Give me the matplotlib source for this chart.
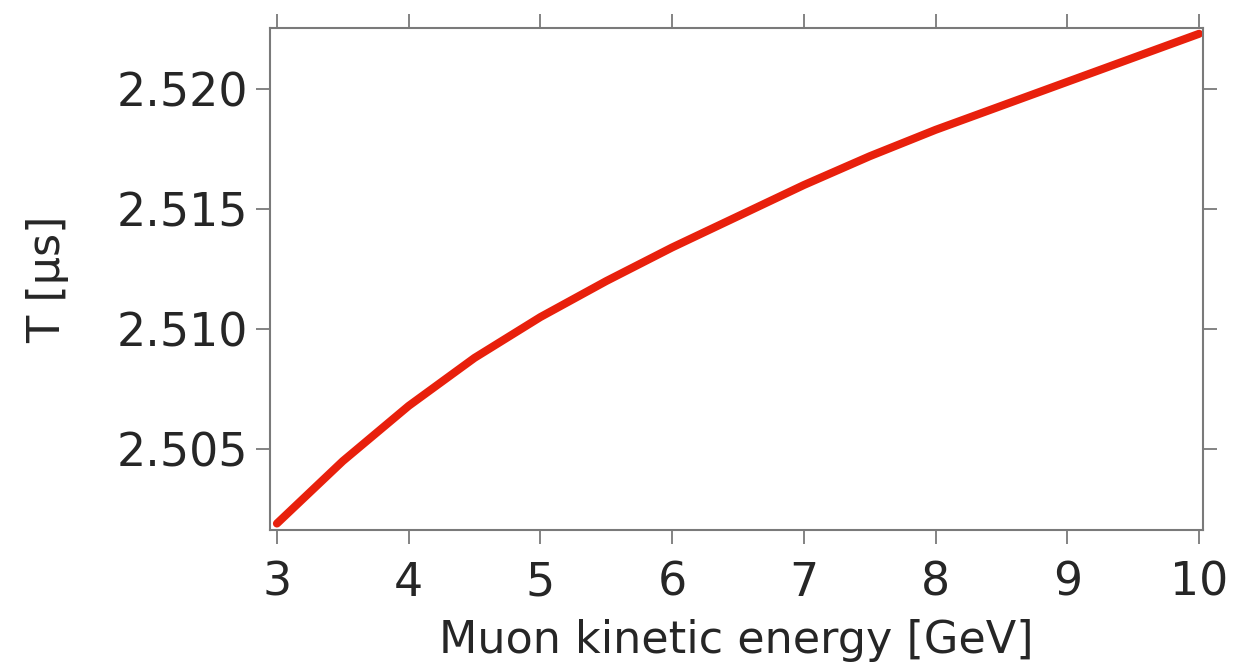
import numpy as np
import matplotlib
matplotlib.use('Agg')
from matplotlib import pyplot as plt

# muon kinetic energy [GeV] and lifetime T [us]
energy = [3.0, 3.5, 4.0, 4.5, 5.0, 5.5, 6.0, 6.5, 7.0, 7.5, 8.0, 8.5, 9.0, 9.5, 10.0]
lifetime = [2.5019, 2.5045, 2.5068, 2.5088, 2.5105, 2.5120, 2.5134, 2.5147,
            2.5160, 2.5172, 2.5183, 2.5193, 2.5203, 2.5213, 2.5223]
xticks = [3, 4, 5, 6, 7, 8, 9, 10]
yticks = [2.505, 2.510, 2.515, 2.520]
ytick_labels = ['2.505', '2.510', '2.515', '2.520']

plt.rcParams['font.family'] = ['DejaVu Sans']
grey = '#7a7a7a'
ink = '#262626'

fig = plt.figure(figsize=(12.4, 6.72), dpi=100)
ax = fig.add_axes([0.2177, 0.2113, 0.7525, 0.747])
ax.plot(energy, lifetime, color='#e8200c', lw=5.8,
        solid_capstyle='round', solid_joinstyle='round')

ax.set_xlim(2.947, 10.03)
ax.set_ylim(2.50163, 2.52254)
ax.set_xticks(xticks)
ax.set_xticklabels([str(t) for t in xticks])
ax.set_yticks(yticks)
ax.set_yticklabels(ytick_labels)

for s in ax.spines.values():
    s.set_color(grey)
    s.set_linewidth(1.5)
ax.tick_params(direction='out', length=10, width=1.3, color=grey,
               labelsize=33, labelcolor=ink, top=True, right=True)
ax.tick_params(axis='x', pad=12)
ax.tick_params(axis='y', pad=6)

ax.set_xlabel('Muon kinetic energy [GeV]', fontsize=32, color=ink, labelpad=10)
ax.set_ylabel('T [\u03bcs]', fontsize=32, color=ink, labelpad=34)

fig.savefig('out.png', dpi=100)
